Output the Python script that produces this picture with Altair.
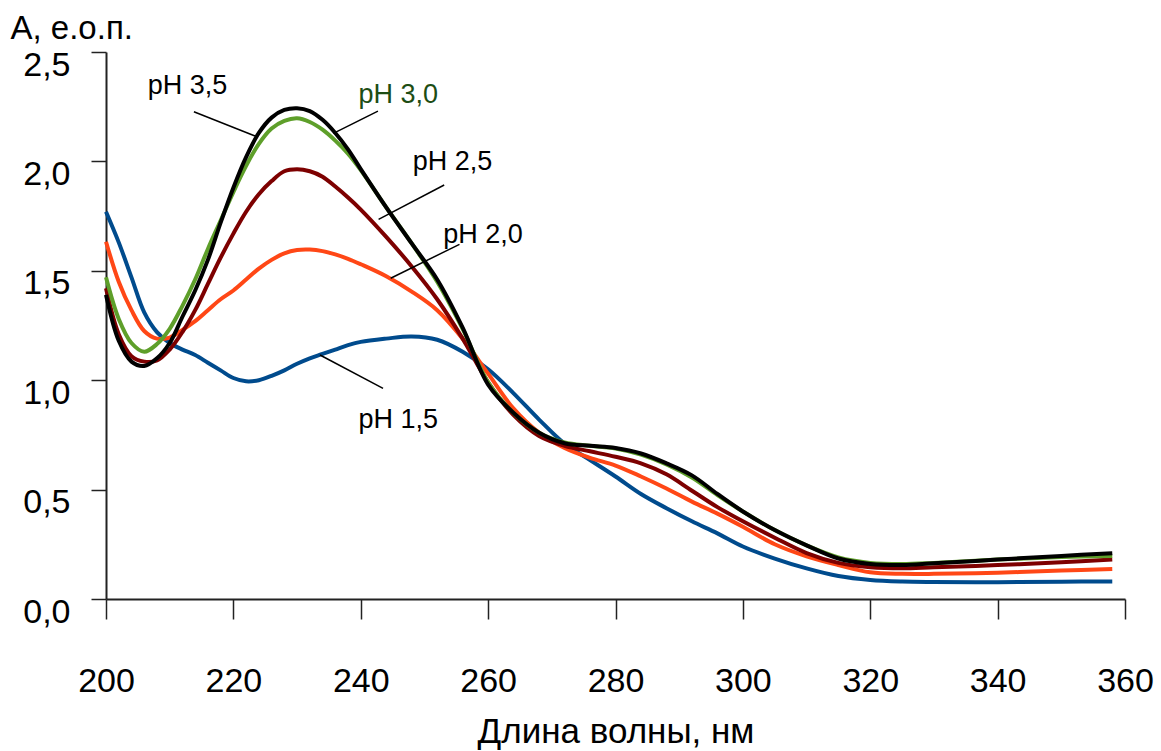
import altair as alt
import pandas as pd

# ---- data ----
wavelength = [200, 202, 204, 206, 208, 210, 212, 214, 216, 218, 220, 222, 224, 226, 228,
              230, 232, 234, 236, 238, 240, 244, 248, 252, 256, 260, 264, 268, 272, 276,
              280, 284, 288, 292, 296, 300, 305, 310, 315, 320, 325, 330, 340, 350, 358]

ph15 = [1.77, 1.63, 1.47, 1.31, 1.22, 1.17, 1.14, 1.115, 1.08, 1.045, 1.01, 0.995, 1.0, 1.02, 1.045,
        1.075, 1.10, 1.12, 1.14, 1.16, 1.175, 1.19, 1.20, 1.185, 1.13, 1.05, 0.94, 0.82, 0.71, 0.635,
        0.56, 0.48, 0.415, 0.355, 0.30, 0.24, 0.185, 0.14, 0.105, 0.087, 0.08, 0.078, 0.077, 0.079, 0.08]

ph20 = [1.633, 1.45, 1.32, 1.225, 1.19, 1.195, 1.23, 1.27, 1.32, 1.37, 1.41, 1.46, 1.51, 1.55, 1.58,
        1.595, 1.597, 1.59, 1.575, 1.555, 1.53, 1.475, 1.405, 1.32, 1.19, 1.03, 0.87, 0.76, 0.69, 0.645,
        0.61, 0.56, 0.505, 0.445, 0.39, 0.33, 0.25, 0.195, 0.155, 0.122, 0.115, 0.115, 0.12, 0.13, 0.137]

ph25 = [1.42, 1.21, 1.11, 1.085, 1.09, 1.14, 1.22, 1.32, 1.44, 1.56, 1.67, 1.77, 1.85, 1.91, 1.955,
        1.964, 1.955, 1.93, 1.885, 1.835, 1.78, 1.655, 1.52, 1.37, 1.19, 0.99, 0.84, 0.745, 0.70, 0.675,
        0.65, 0.62, 0.57, 0.495, 0.42, 0.355, 0.28, 0.21, 0.165, 0.145, 0.14, 0.145, 0.155, 0.168, 0.181]

ph30 = [1.47, 1.28, 1.17, 1.13, 1.165, 1.235, 1.34, 1.46, 1.60, 1.73, 1.86, 1.98, 2.08, 2.15, 2.185,
        2.197, 2.18, 2.145, 2.095, 2.035, 1.96, 1.79, 1.625, 1.45, 1.235, 0.99, 0.85, 0.76, 0.715, 0.70,
        0.688, 0.66, 0.615, 0.555, 0.475, 0.40, 0.315, 0.245, 0.19, 0.165, 0.16, 0.165, 0.18, 0.192, 0.197]

ph35 = [1.39, 1.18, 1.085, 1.065, 1.10, 1.17, 1.29, 1.41, 1.55, 1.72, 1.88, 2.02, 2.13, 2.20, 2.235,
        2.243, 2.23, 2.19, 2.13, 2.055, 1.965, 1.79, 1.625, 1.46, 1.24, 0.98, 0.85, 0.76, 0.712, 0.70,
        0.69, 0.665, 0.62, 0.565, 0.48, 0.40, 0.315, 0.245, 0.185, 0.16, 0.155, 0.163, 0.18, 0.197, 0.209]

series_names = ["pH 1,5", "pH 2,0", "pH 2,5", "pH 3,0", "pH 3,5"]
series_values = [ph15, ph20, ph25, ph30, ph35]
series_colors = ["#004b8d", "#ff4716", "#7d0000", "#5e9f2a", "#000000"]

# annotation labels and leader lines (in data units)
ann_text = ["pH 3,5", "pH 3,0", "pH 2,5", "pH 2,0", "pH 1,5"]
ann_x = [212.8, 245.9, 254.4, 259.2, 245.9]
ann_y = [2.308, 2.266, 1.961, 1.626, 0.780]
ann_color = ["#000000", "#1d4d14", "#000000", "#000000", "#000000"]
lead_x1 = [213.8, 242.7, 253.1, 255.5, 233.6]
lead_y1 = [2.227, 2.230, 1.892, 1.621, 1.115]
lead_x2 = [223.4, 235.7, 242.8, 244.7, 243.5]
lead_y2 = [2.116, 2.128, 1.735, 1.466, 0.963]

x_ticks = [200, 220, 240, 260, 280, 300, 320, 340, 360]
y_ticks = [0.0, 0.5, 1.0, 1.5, 2.0, 2.5]

# ---- tables ----
rows = []
for name, vals in zip(series_names, series_values):
    for i, (w, v) in enumerate(zip(wavelength, vals)):
        rows.append({"wl": w, "A": v, "series": name, "order": i})
df = pd.DataFrame(rows)

ann_df = pd.DataFrame({"text": ann_text, "x": ann_x, "y": ann_y, "color": ann_color})
lead_df = pd.DataFrame({"x1": lead_x1, "y1": lead_y1, "x2": lead_x2, "y2": lead_y2})

FONT = "Liberation Sans, Arial, sans-serif"

xscale = alt.Scale(domain=[200, 360], nice=False, zero=False)
yscale = alt.Scale(domain=[0, 2.5], nice=False)

x_axis = alt.Axis(
    values=x_ticks, format="d", title="Длина волны, нм",
    grid=False, domainColor="#222222", domainWidth=2, tickColor="#222222", tickWidth=1.5,
    tickSize=20, labelFont=FONT, labelFontSize=34, labelColor="#000000",
    labelBaseline="alphabetic", labelPadding=72, labelFlush=False,
    titleFont=FONT, titleFontSize=35, titleFontWeight="normal", titleColor="#000000",
    titleBaseline="alphabetic", titleY=143,
)
y_axis = alt.Axis(
    values=y_ticks, labelExpr="replace(format(datum.value, '.1f'), '.', ',')",
    title="А, е.о.п.", grid=False, domainColor="#222222", domainWidth=2,
    tickColor="#222222", tickWidth=1.5, tickSize=15,
    labelFont=FONT, labelFontSize=34, labelColor="#000000", labelPadding=21,
    labelOffset=13, labelFlush=False,
    titleFont=FONT, titleFontSize=33, titleFontWeight="normal", titleColor="#000000",
    titleAngle=0, titleAlign="left", titleBaseline="alphabetic", titleX=-96, titleY=-14,
)

lines = alt.Chart(df).mark_line(strokeWidth=4, interpolate="catmull-rom").encode(
    x=alt.X("wl:Q", scale=xscale, axis=x_axis),
    y=alt.Y("A:Q", scale=yscale, axis=y_axis),
    color=alt.Color("series:N", scale=alt.Scale(domain=series_names, range=series_colors), legend=None),
    order=alt.Order("order:Q"),
    detail="series:N",
)

leaders = alt.Chart(lead_df).mark_rule(color="#000000", strokeWidth=1.5).encode(
    x=alt.X("x1:Q", scale=xscale), y=alt.Y("y1:Q", scale=yscale),
    x2="x2:Q", y2="y2:Q",
)

labels = alt.Chart(ann_df).mark_text(
    font=FONT, fontSize=27, align="center", baseline="alphabetic"
).encode(
    x=alt.X("x:Q", scale=xscale), y=alt.Y("y:Q", scale=yscale),
    text="text:N", color=alt.Color("color:N", scale=None),
)

chart = alt.layer(lines, leaders, labels).properties(
    width=1019, height=547,
    autosize=alt.AutoSizeParams(type="none"),
    padding={"left": 106, "top": 52, "right": 36, "bottom": 152},
    background="#ffffff",
).configure_view(stroke=None)

chart.save("out.html", embed_options={"renderer": "svg", "actions": False})
